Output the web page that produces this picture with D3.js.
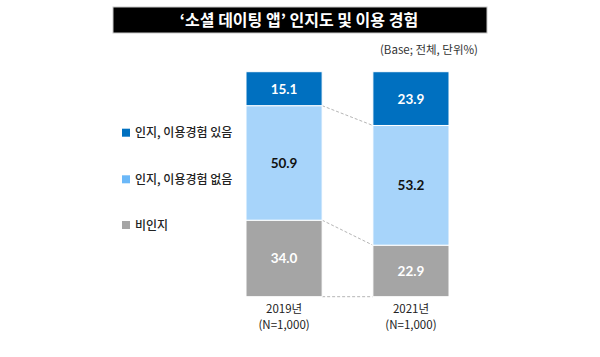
<!DOCTYPE html>
<html><head><meta charset="utf-8">
<script src="https://cdn.jsdelivr.net/npm/d3@7"></script>
<style>body{margin:0;background:#fff}svg{display:block}</style>
</head><body>
<script>
const titleText = "‘소셜 데이팅 앱’ 인지도 및 이용 경험";
const noteText = "(Base; 전체, 단위%)";
const categories = ["2019년", "2021년"];
const sampleLabels = ["(N=1,000)", "(N=1,000)"];
const seriesNames = ["인지, 이용경험 있음", "인지, 이용경험 없음", "비인지"];
const usedValues = [15.1, 23.9];
const notUsedValues = [50.9, 53.2];
const unawareValues = [34.0, 22.9];

const W = 600, H = 357;
const svg = d3.select("body").append("svg").attr("width", W).attr("height", H);
const font = "'Noto Sans CJK KR', 'Noto Sans', sans-serif";
const numFont = "Lato, 'Noto Sans', sans-serif";

// title banner
svg.append("rect").attr("x", 113).attr("y", 7).attr("width", 374).attr("height", 26)
  .attr("fill", "#000").attr("stroke", "#c8c8c8").attr("stroke-width", 1);
svg.append("text").attr("x", 299).attr("y", 26).attr("text-anchor", "middle")
  .attr("fill", "#fff").attr("font-family", font).attr("font-weight", 700).attr("font-size", 16)
  .text(titleText);
svg.append("text").attr("x", 478).attr("y", 54).attr("text-anchor", "end")
  .attr("fill", "#333").attr("font-family", font).attr("font-size", 11.5)
  .text(noteText);

// data table bottom to top
const keys = ["unaware", "notUsed", "used"];
const rows = categories.map((c, i) => ({cat: c, used: usedValues[i], notUsed: notUsedValues[i], unaware: unawareValues[i]}));
const stack = d3.stack().keys(keys)(rows);
const colors = {used: "#0070C0", notUsed: "#A7D4FA", unaware: "#A5A5A5"};
const legendColors = {used: "#0070C0", notUsed: "#6BB8F8", unaware: "#A5A5A5"};
const labelColors = {used: "#fff", notUsed: "#111", unaware: "#fff"};

const x = d3.scaleBand().domain(categories).range([246, 449]).paddingInner(0.4).paddingOuter(0);
const y = d3.scaleLinear().domain([0, 100]).range([296.7, 71.7]);

// connectors
const c0 = categories[0], c1 = categories[1];
const lines = [{a: 0, b: 0}].concat([0, 1].map(k => ({a: stack[k][0][1], b: stack[k][1][1]})));
svg.append("g").selectAll("line").data(lines).join("line")
  .attr("x1", x(c0) + x.bandwidth()).attr("x2", x(c1))
  .attr("y1", d => y(d.a)).attr("y2", d => y(d.b))
  .attr("stroke", "#b5b5b5").attr("stroke-width", 1).attr("stroke-dasharray", "3,2");

// bars
const g = svg.append("g");
stack.forEach(s => {
  const key = s.key;
  g.selectAll(null).data(s).join("rect")
    .attr("x", d => x(d.data.cat)).attr("width", x.bandwidth())
    .attr("y", d => y(d[1])).attr("height", d => y(d[0]) - y(d[1]))
    .attr("fill", colors[key]).attr("stroke", "#fff").attr("stroke-width", 1);
  g.selectAll(null).data(s).join("text")
    .attr("x", d => x(d.data.cat) + x.bandwidth() / 2)
    .attr("y", d => (y(d[0]) + y(d[1])) / 2 + 5)
    .attr("text-anchor", "middle").attr("fill", labelColors[key])
    .attr("font-family", numFont).attr("font-weight", 700).attr("font-size", 13.5)
    .text(d => (d[1] - d[0]).toFixed(1));
});

// category labels
const axis = svg.append("g");
categories.forEach((c, i) => {
  const cx = x(c) + x.bandwidth() / 2;
  axis.append("text").attr("x", cx).attr("y", 313).attr("text-anchor", "middle")
    .attr("fill", "#222").attr("font-family", font).attr("font-size", 11.5).text(c);
  axis.append("text").attr("x", cx).attr("y", 329).attr("text-anchor", "middle")
    .attr("fill", "#222").attr("font-family", font).attr("font-size", 11.5).text(sampleLabels[i]);
});

// legend
const legendKeys = ["used", "notUsed", "unaware"];
const legendY = [132.7, 179.3, 225];
const lg = svg.append("g");
legendKeys.forEach((k, i) => {
  lg.append("rect").attr("x", 122).attr("y", legendY[i] - 4).attr("width", 8).attr("height", 8)
    .attr("fill", legendColors[k]);
  lg.append("text").attr("x", 135).attr("y", legendY[i] + 4.5)
    .attr("fill", "#222").attr("font-family", font).attr("font-weight", 500).attr("font-size", 12)
    .text(seriesNames[i]);
});
</script>
</body></html>
